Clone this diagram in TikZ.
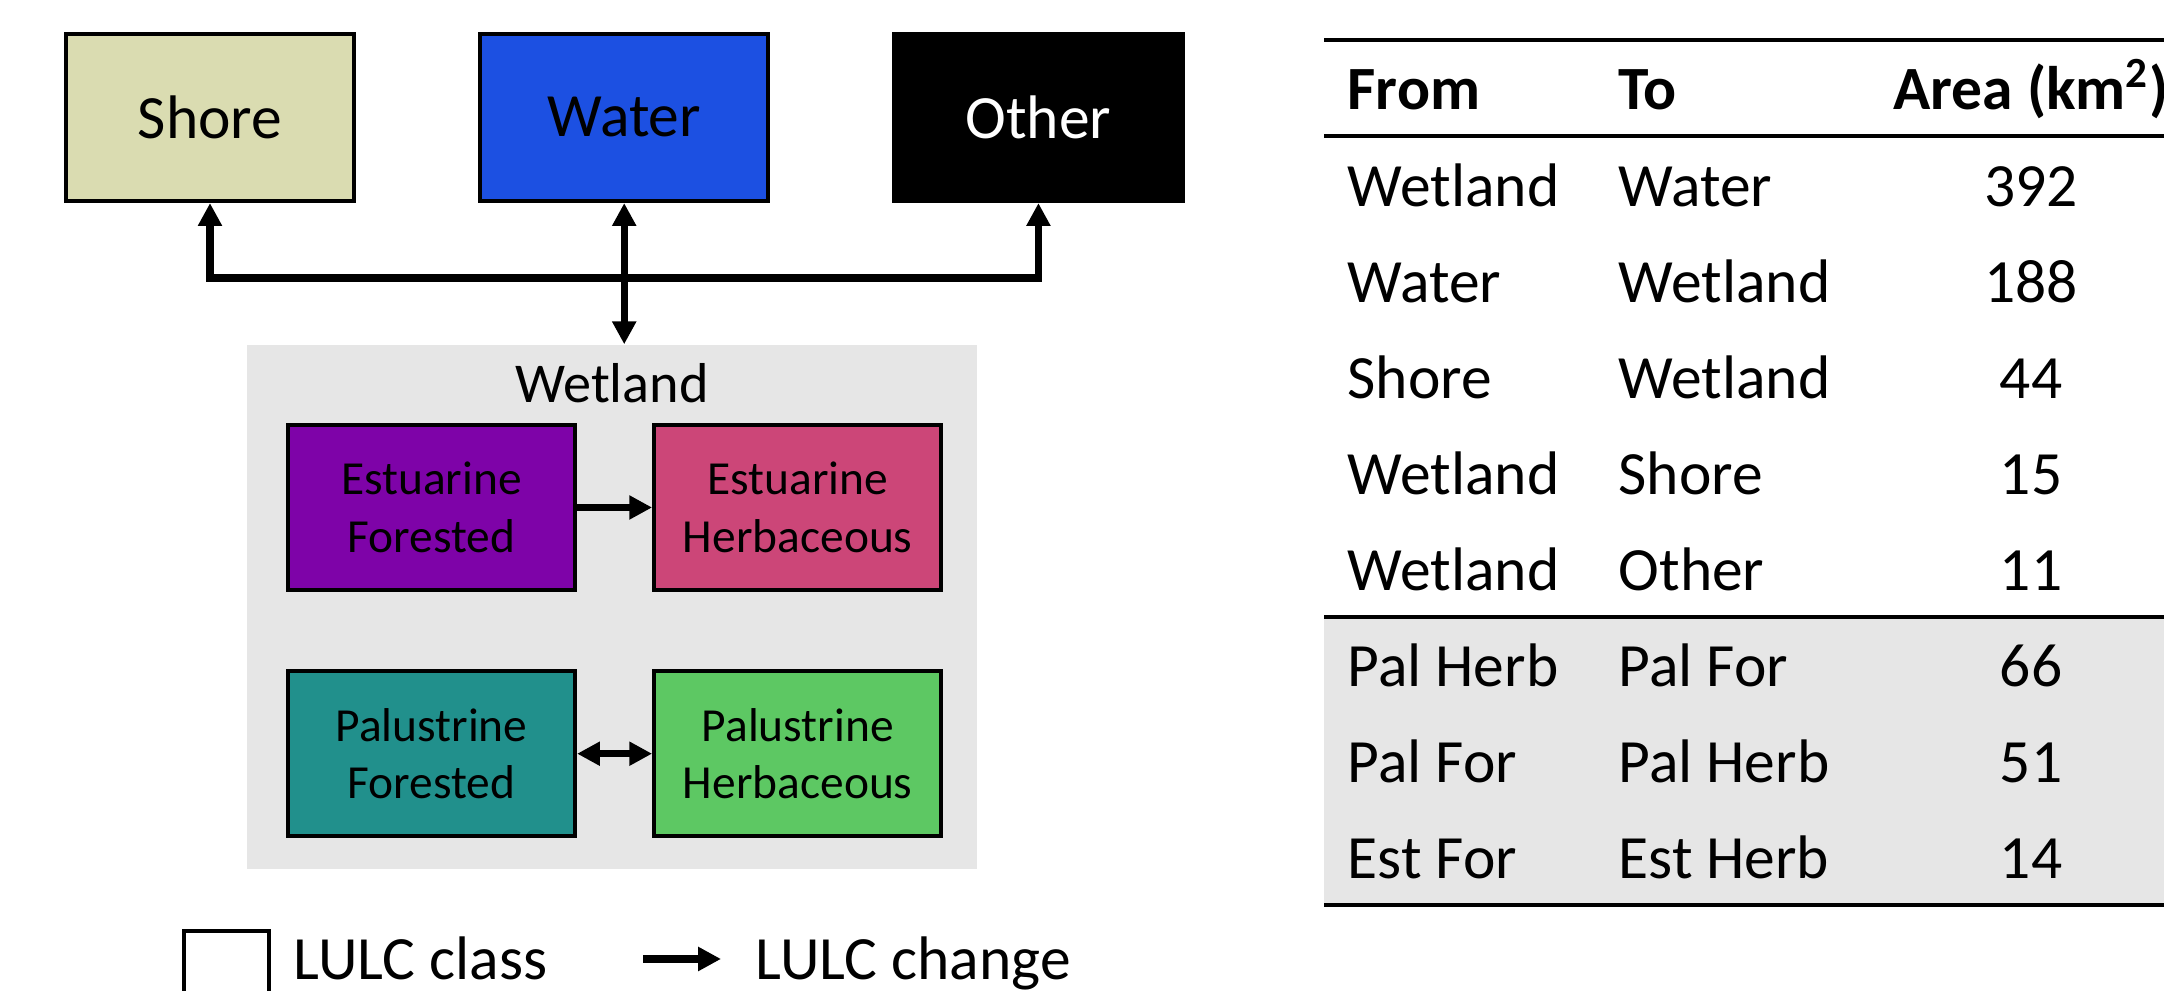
\documentclass[tikz,border=0pt]{standalone}
\usepackage{fontspec}
\setmainfont{Carlito}
\usepackage{tikz}
\usetikzlibrary{positioning,arrows.meta}
\definecolor{shorecol}{RGB}{218,220,177}
\definecolor{watercol}{RGB}{28,80,226}
\definecolor{estforcol}{RGB}{126,3,168}
\definecolor{estherbcol}{RGB}{204,70,120}
\definecolor{palforcol}{RGB}{33,144,140}
\definecolor{palherbcol}{RGB}{93,200,99}
\definecolor{wetgray}{RGB}{230,230,230}

\begin{document}
\begin{tikzpicture}[
  >={Triangle[length=6.5pt,width=6.5pt]},
  topclass/.style={draw=black,line width=1.2pt,minimum width=2.88cm,minimum height=1.67cm,font=\fontsize{17.5}{21}\selectfont},
  subclass/.style={draw=black,line width=1.2pt,minimum width=2.87cm,minimum height=1.65cm,align=center,font=\fontsize{13.5}{16.5}\selectfont},
  change/.style={line width=2.1pt,->},
  cell/.style={anchor=base west,inner sep=0pt,font=\fontsize{17.5}{21}\selectfont},
  rule/.style={line width=1.4pt}
]
\useasboundingbox (0,0) rectangle (21.64,9.91);
\clip (0,0) rectangle (21.64,9.91);

% classes
\node[topclass,fill=shorecol] (shore) at (2.10,8.735) {Shore};
\node[topclass,fill=watercol,right=1.22cm of shore] (water) {Water};
\node[topclass,fill=black,text=white,right=1.22cm of water] (other) {Other};

\node[fill=wetgray,minimum width=7.30cm,minimum height=5.24cm,inner sep=0pt] (wetland) at (6.12,3.84) {};
\node[anchor=base,font=\fontsize{16}{19}\selectfont] (wetlabel) at (6.12,5.88) {Wetland};

\node[subclass,fill=estforcol] (estfor) at (4.315,4.835) {Estuarine\\Forested};
\node[subclass,fill=estherbcol,right=0.75cm of estfor] (estherb) {Estuarine\\Herbaceous};
\node[subclass,fill=palforcol,below=0.77cm of estfor] (palfor) {Palustrine\\Forested};
\node[subclass,fill=palherbcol,right=0.75cm of palfor] (palherb) {Palustrine\\Herbaceous};

% changes
\coordinate (hub) at (water.south |- 0,7.13);
\draw[change] (hub) -| (shore);
\draw[change] (hub) -| (other);
\draw[change,<->] (water |- wetland.north) -- (water);
\draw[change] (estfor) -- (estherb);
\draw[change,<->] (palfor) -- (palherb);

% legend
\node[draw,line width=1.3pt,minimum width=0.85cm,minimum height=0.8cm,inner sep=0pt] (legclass) at (2.265,0.20) {};
\node[cell] (legclasstxt) at (2.93,0.11) {LULC class};
\coordinate (legtail) at (6.43,0.32);
\coordinate (leghead) at (7.21,0.32);
\draw[change] (legtail) -- (leghead);
\node[cell] (legchangetxt) at (7.55,0.11) {LULC change};

% table
\fill[wetgray] (13.24,0.88) rectangle (21.64,3.72);
\draw[rule] (13.24,9.51) -- (21.64,9.51);
\draw[rule] (13.24,8.55) -- (21.64,8.55);
\draw[rule] (13.24,3.74) -- (21.64,3.74);
\draw[rule] (13.24,0.86) -- (21.64,0.86);
\node[cell] (hfrom) at (13.47,8.81) {\textbf{From}};
\node[cell] (hto) at (16.18,8.81) {\textbf{To}};
\node[cell,anchor=base] (harea) at (20.31,8.81) {\textbf{Area (km\textsuperscript{2})}};
\foreach \src/\dst/\km [count=\i from 0] in {Wetland/Water/392,Water/Wetland/188,Shore/Wetland/44,Wetland/Shore/15,Wetland/Other/11,Pal Herb/Pal For/66,Pal For/Pal Herb/51,Est For/Est Herb/14}{
  \node[cell] (from\i) at (13.47,{7.84-0.9586*\i}) {\src};
  \node[cell] (to\i) at (16.18,{7.84-0.9586*\i}) {\dst};
  \node[cell,anchor=base] (area\i) at (20.31,{7.84-0.9586*\i}) {\km};
}

\end{tikzpicture}
\end{document}
